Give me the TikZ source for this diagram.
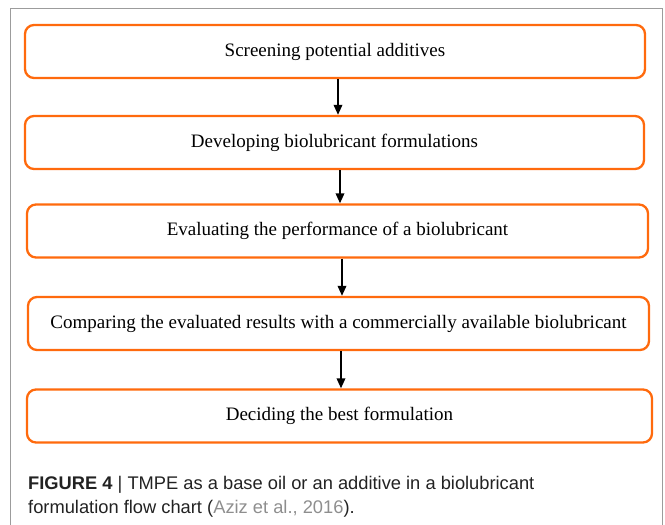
\documentclass[tikz,border=0pt]{standalone}
\usepackage{fontspec}
\setmainfont{Liberation Serif}
\newfontfamily\captionfont{Liberation Sans}
\usetikzlibrary{arrows.meta}

\definecolor{stageorange}{HTML}{FF6A0D}
\definecolor{framegray}{HTML}{9C9C9C}
\definecolor{captiontext}{HTML}{222222}
\definecolor{citegray}{HTML}{8E8E8E}

\begin{document}
\begin{tikzpicture}[x=1pt,y=-1pt,>={Triangle[length=10pt,width=8.5pt]},
 stage/.style={draw=stageorange,line width=2.3pt,rounded corners=9pt,minimum height=53pt,inner sep=0pt,font=\fontsize{19}{22}\selectfont},
 flow/.style={->,line width=1.8pt},
 caption/.style={anchor=base west,inner sep=0pt,text=captiontext,font=\captionfont\fontsize{18.3}{22}\selectfont}]
\useasboundingbox (0,0) rectangle (665,525);
% outer frame
\draw[framegray,line width=1pt] (10,525) -- (10,8) -- (662,8) -- (662,525);
% stages
\node[stage,minimum width=620pt] (sScreen) at (335,51.5) {Screening potential additives};
\node[stage,minimum width=619pt] (sDevelop) at (334.5,142.5) {Developing biolubricant formulations};
\node[stage,minimum width=621pt] (sEvaluate) at (337.5,231) {Evaluating the performance of a biolubricant};
\node[stage,minimum width=621pt] (sCompare) at (338.5,323.5) {Comparing the evaluated results with a commercially available biolubricant};
\node[stage,minimum width=625pt] (sDecide) at (339.5,416) {Deciding the best formulation};
\draw[flow] ([xshift=3pt]sScreen.south) -- ([xshift=3pt]sScreen.south |- sDevelop.north);
\draw[flow] ([xshift=5.5pt]sDevelop.south) -- ([xshift=5.5pt]sDevelop.south |- sEvaluate.north);
\draw[flow] ([xshift=4.5pt]sEvaluate.south) -- ([xshift=4.5pt]sEvaluate.south |- sCompare.north);
\draw[flow] ([xshift=2.5pt]sCompare.south) -- ([xshift=2.5pt]sCompare.south |- sDecide.north);
% caption
\node[caption] (capA) at (28,489) {\textbf{FIGURE 4} | TMPE as a base oil or an additive in a biolubricant};
\node[caption] (capB) at (28,513) {formulation flow chart (\textcolor{citegray}{Aziz et al., 2016}).};
\end{tikzpicture}
\end{document}
